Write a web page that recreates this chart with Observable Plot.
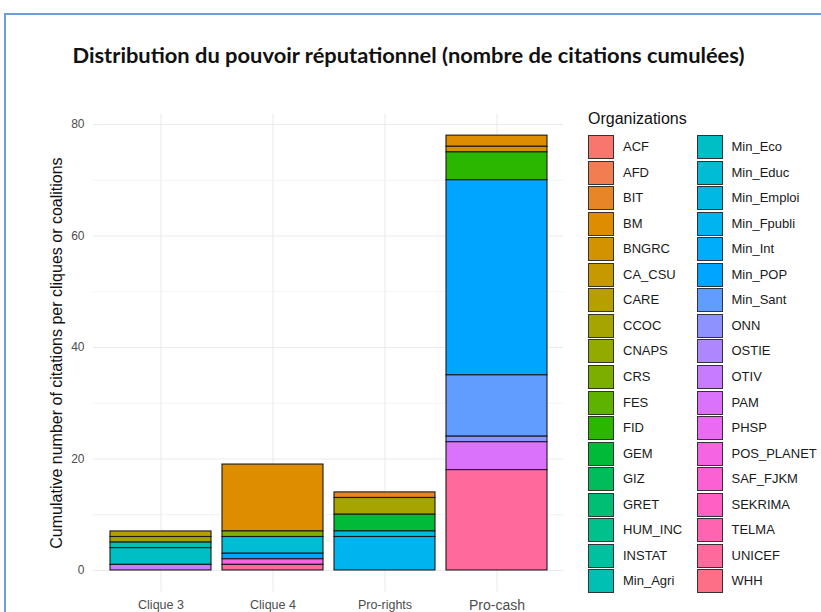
<!DOCTYPE html>
<html>
<head>
<meta charset="utf-8">
<script src="https://cdn.jsdelivr.net/npm/d3@7"></script>
<script src="https://cdn.jsdelivr.net/npm/@observablehq/plot@0.6"></script>
<style>
  html, body { margin: 0; padding: 0; background: #fff; }
  #wrap { position: relative; width: 821px; height: 612px; overflow: hidden; background: #fff; font-family: "Liberation Sans", Arial, sans-serif; }
  #frame { position: absolute; left: 4px; top: 13px; width: 900px; height: 700px; border-top: 2px solid #6A9FD8; border-left: 2px solid #6A9FD8; }
  #title { position: absolute; left: 0; top: 42px; width: 821px; text-align: center; white-space: nowrap; }
  #title span { display: inline-block; font-family: Lato, "Open Sans", sans-serif; font-weight: 700; font-size: 21px; color: #111; transform-origin: center; }
  #chart { position: absolute; left: 0; top: 0; }
  .lg-title { position: absolute; left: 588px; font-size: 16px; color: #111; line-height: 1; }
  .sw { position: absolute; width: 24px; height: 22px; border: 1.3px solid #333; }
  .lb { position: absolute; font-size: 13px; color: #1a1a1a; line-height: 1; white-space: nowrap; }
</style>
</head>
<body>
<div id="wrap">
  <div id="frame"></div>
  <div id="title"><span id="ttl">Distribution du pouvoir réputationnel (nombre de citations cumulées)</span></div>
  <div id="chart"></div>
  <div id="legend"></div>
</div>
<script>
// ---- data ----
const groups = ["Clique 3", "Clique 4", "Pro-rights", "Pro-cash"];
const organizations = ["ACF","AFD","BIT","BM","BNGRC","CA_CSU","CARE","CCOC","CNAPS","CRS","FES","FID","GEM","GIZ","GRET","HUM_INC","INSTAT","Min_Agri","Min_Eco","Min_Educ","Min_Emploi","Min_Fpubli","Min_Int","Min_POP","Min_Sant","ONN","OSTIE","OTIV","PAM","PHSP","POS_PLANET","SAF_FJKM","SEKRIMA","TELMA","UNICEF","WHH"];

const clique3Orgs = ["CARE","CCOC","Min_Agri","Min_Eco","OTIV"];
const clique3Values = [1, 1, 1, 3, 1];
const clique4Orgs = ["BM","CRS","Min_Educ","Min_POP","POS_PLANET","UNICEF"];
const clique4Values = [12, 1, 3, 1, 1, 1];
const proRightsOrgs = ["BIT","CCOC","GEM","Min_Emploi","Min_Fpubli"];
const proRightsValues = [1, 3, 3, 1, 6];
const proCashOrgs = ["BM","BNGRC","FID","Min_POP","Min_Sant","ONN","PAM","UNICEF"];
const proCashValues = [2, 1, 5, 35, 11, 1, 5, 18];

const yTicks = [0, 20, 40, 60, 80];
const yMinor = [10, 30, 50, 70];

// ---- table built from arrays ----
const table = [];
[[groups[0], clique3Orgs, clique3Values],
 [groups[1], clique4Orgs, clique4Values],
 [groups[2], proRightsOrgs, proRightsValues],
 [groups[3], proCashOrgs, proCashValues]].forEach(([g, orgs, vals]) => {
  orgs.forEach((o, i) => table.push({group: g, org: o, value: vals[i]}));
});

// ggplot2 default hue palette (polar LUV -> sRGB)
function hclLuv(h, c, l) {
  const hr = h * Math.PI / 180;
  const U = c * Math.cos(hr), V = c * Math.sin(hr);
  const Xn = 0.95047, Yn = 1.0, Zn = 1.08883;
  const Y = l > 8 ? Yn * Math.pow((l + 16) / 116, 3) : Yn * l / 903.3;
  const den = Xn + 15 * Yn + 3 * Zn;
  const un = 4 * Xn / den, vn = 9 * Yn / den;
  const u = U / (13 * l) + un, v = V / (13 * l) + vn;
  const X = 9 * Y * u / (4 * v);
  const Z = -X / 3 - 5 * Y + 3 * Y / v;
  const lin = [
    3.2404542 * X - 1.5371385 * Y - 0.4985314 * Z,
    -0.9692660 * X + 1.8760108 * Y + 0.0415560 * Z,
    0.0556434 * X - 0.2040259 * Y + 1.0572252 * Z
  ];
  const g = lin.map(t => {
    const s = t <= 0.0031308 ? 12.92 * t : 1.055 * Math.pow(t, 1 / 2.4) - 0.055;
    return Math.max(0, Math.min(255, Math.round(s * 255)));
  });
  return "#" + g.map(x => x.toString(16).padStart(2, "0")).join("");
}
const n = organizations.length;
const palette = organizations.map((_, i) => hclLuv((15 + 360 * i / n) % 360, 100, 65));

// ---- chart ----
const yLo = -3.9, yHi = 81.9;
const plot = Plot.plot({
  width: 575,
  height: 612,
  marginLeft: 93,
  marginRight: 12,
  marginTop: 113.4,
  marginBottom: 20.3,
  style: {fontFamily: "'Liberation Sans', Arial, sans-serif", background: "transparent", overflow: "visible"},
  x: {domain: groups, paddingInner: 0.1, paddingOuter: 0.148, align: 0.5, label: null},
  y: {domain: [yLo, yHi], label: null},
  color: {domain: organizations, range: palette},
  marks: [
    Plot.ruleY(yMinor, {stroke: "#EBEBEB", strokeWidth: 0.6}),
    Plot.ruleY(yTicks, {stroke: "#EBEBEB", strokeWidth: 1.1}),
    Plot.ruleX(groups, {x: d => d, stroke: "#EBEBEB", strokeWidth: 1.1}),
    Plot.barY(table, {
      x: "group", y: "value", fill: "org", z: "org",
      order: organizations.slice().reverse(),
      stroke: "#1a1a1a", strokeWidth: 1.1
    }),
    Plot.axisY({ticks: yTicks, tickSize: 0, tickPadding: 9, fontSize: 12, label: "Cumulative number of citations per cliques or coalitions", labelAnchor: "center", labelArrow: "none", labelOffset: 43}),
    Plot.axisX({tickSize: 0, tickPadding: 8, fontSize: 12.5, label: null})
  ]
});
document.getElementById("chart").appendChild(plot);

// style tweaks
const svg = d3.select(plot);
svg.selectAll("[aria-label='y-axis tick label']").attr("fill", "#4D4D4D");
svg.selectAll("[aria-label='x-axis tick label']").attr("fill", "#4D4D4D");
svg.selectAll("[aria-label='y-axis label']").attr("font-size", 16).attr("fill", "#111");
svg.selectAll("[aria-label='y-axis label'] text").attr("font-size", 16);
svg.selectAll("[aria-label='x-axis tick label'] text").filter(function() { return this.textContent === "Pro-cash"; }).attr("font-size", 14);

// ---- legend ----
const lg = document.getElementById("legend");
const t = document.createElement("div");
t.className = "lg-title"; t.textContent = "Organizations"; t.style.top = "111px";
lg.appendChild(t);
const perCol = 18;
organizations.forEach((o, i) => {
  const col = Math.floor(i / perCol), row = i % perCol;
  const cy = 147 + 25.55 * row;
  const sx = col === 0 ? 588 : 696.5;
  const lx = col === 0 ? 623 : 731.5;
  const sw = document.createElement("div");
  sw.className = "sw"; sw.style.left = sx + "px"; sw.style.top = (cy - 12) + "px"; sw.style.background = palette[i];
  lg.appendChild(sw);
  const lb = document.createElement("div");
  lb.className = "lb"; lb.textContent = o; lb.style.left = lx + "px"; lb.style.top = (cy - 7) + "px";
  lg.appendChild(lb);
});

// fit title width
const ttl = document.getElementById("ttl");
const w = ttl.getBoundingClientRect().width;
ttl.style.transform = "translateX(-2px) scaleX(" + (672 / w) + ")";
</script>
</body>
</html>
